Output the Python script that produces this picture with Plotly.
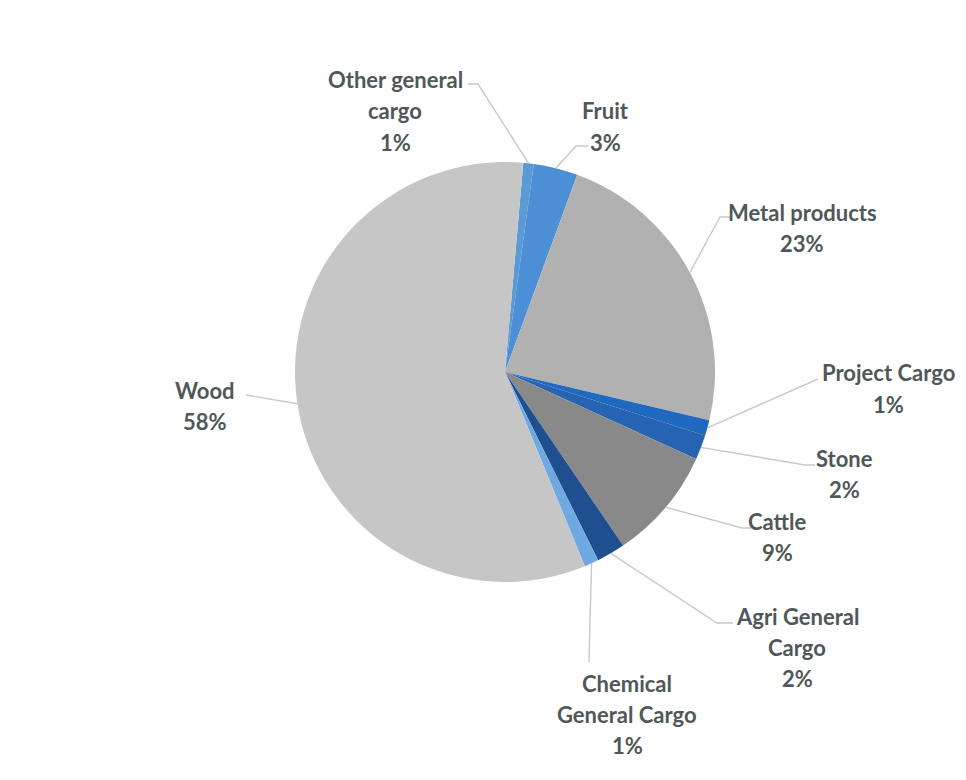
import math
import plotly.graph_objects as go

# ---- data ----
categories = ["Other general cargo", "Fruit", "Metal products", "Project Cargo", "Stone",
              "Cattle", "Agri General Cargo", "Chemical General Cargo", "Wood"]
display_lines = [["Other general", "cargo"], ["Fruit"], ["Metal products"], ["Project Cargo"],
                 ["Stone"], ["Cattle"], ["Agri General", "Cargo"], ["Chemical", "General Cargo"], ["Wood"]]
values = [0.8, 3.4, 23.1, 1.2, 1.9, 8.7, 2.2, 1.1, 57.6]
colors = ["#5b9bd5", "#4d8fd6", "#b1b1b1", "#2069c0", "#2763b3",
          "#898989", "#1f4f8f", "#6fa9e2", "#c6c6c6"]

# ---- layout constants (pixels, in screenshot coordinates) ----
OFF = 8                      # page body margin
W, H = 950, 764
CX, CY, R = 505, 372, 210
ROTATION = 5
TEXT_COLOR = "#4f5858"
FONT = "Lato"
FSIZE = 22
LINE_H = 31
# label block: center x, first-line y
label_pos = [(395, 80), (605, 111), (802, 212), (888, 373), (844, 458),
             (777, 521), (797, 616), (627, 683), (205, 390)]
# leader line start points (near label)
leader_start = [[(468, 84), (478, 84)], [(588, 146), (576, 146)], [(730, 217), (720, 217)],
                [(818, 379)], [(815, 465), (805, 465)], [(752, 528), (742, 528)],
                [(733, 623), (717, 623)], [(589, 662)], [(246, 395)]]


def px2paper(x, y):
    return (x - OFF) / W, 1 - (y - OFF) / H


total = sum(values)

x0, y1 = px2paper(CX - R, CY - R)
x1, y0 = px2paper(CX + R, CY + R)

fig = go.Figure()
fig.add_trace(go.Pie(
    labels=categories, values=values, sort=False, direction="clockwise",
    rotation=ROTATION, marker=dict(colors=colors, line=dict(width=0)),
    textinfo="none", hoverinfo="label+percent", showlegend=False,
    domain=dict(x=[x0, x1], y=[y0, y1]),
))

annotations = []
shapes = []
cum = 0.0
for i, v in enumerate(values):
    mid = math.radians(ROTATION + 360 * (cum + v / 2) / total)
    cum += v
    ex, ey = CX + R * math.sin(mid), CY - R * math.cos(mid)
    pts = leader_start[i] + [(ex, ey)]
    path = ""
    for j, (x, y) in enumerate(pts):
        px, py = px2paper(x, y)
        path += ("M" if j == 0 else " L") + f"{px:.5f},{py:.5f}"
    shapes.append(dict(type="path", path=path, xref="paper", yref="paper",
                       line=dict(color="#c9c9c9", width=1.4)))
    pct = f"{round(v / total * 100)}%"
    lines = display_lines[i] + [pct]
    lx, ly = label_pos[i]
    for k, t in enumerate(lines):
        ax_, ay_ = px2paper(lx, ly + k * LINE_H)
        annotations.append(dict(text=f"<b>{t}</b>", x=ax_, y=ay_, xref="paper", yref="paper",
                                xanchor="center", yanchor="middle", showarrow=False,
                                font=dict(family=FONT, size=FSIZE, color=TEXT_COLOR)))

fig.update_layout(width=W, height=H, margin=dict(l=0, r=0, t=0, b=0),
                  paper_bgcolor="white", plot_bgcolor="white",
                  annotations=annotations, shapes=shapes)
fig.write_html("out.html")
